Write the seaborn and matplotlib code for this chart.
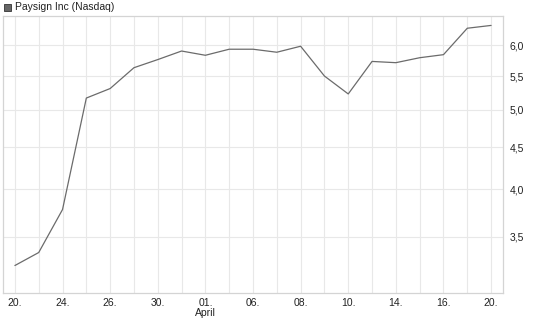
import matplotlib
matplotlib.use("Agg")
import matplotlib.pyplot as plt
import seaborn as sns
import pandas as pd
import numpy as np
from matplotlib.ticker import FixedLocator, NullLocator, FixedFormatter
from matplotlib.patches import Rectangle

title = "Paysign Inc (Nasdaq)"
prices = [3.23, 3.35, 3.78, 5.17, 5.31, 5.63, 5.76, 5.90, 5.83, 5.93, 5.93,
          5.88, 5.98, 5.50, 5.23, 5.73, 5.71, 5.79, 5.84, 6.29, 6.34]
x_tick_labels = ["20.", "24.", "26.", "30.", "01.", "06.", "08.", "10.", "14.", "16.", "20."]
y_ticks = [3.5, 4.0, 4.5, 5.0, 5.5, 6.0]
y_tick_labels = ["3,5", "4,0", "4,5", "5,0", "5,5", "6,0"]
month_label = "April"

df = pd.DataFrame({"i": np.arange(len(prices)), "price": prices})

sns.set_style("white")
plt.rcParams["font.family"] = ["Liberation Sans", "DejaVu Sans"]

fig = plt.figure(figsize=(5.45, 3.27), dpi=100)
ax = fig.add_axes([3/545, 1 - 293/327, 500/545, 277/327])

sns.lineplot(data=df, x="i", y="price", ax=ax, color="#6b6b6b", linewidth=0.9)

ax.set_yscale("log")
ax.set_ylim(2.99, 6.51)
ax.set_xlim(-0.5, len(prices) - 0.5)

ax.yaxis.set_major_locator(FixedLocator(y_ticks))
ax.yaxis.set_major_formatter(FixedFormatter(y_tick_labels))
ax.yaxis.set_minor_locator(NullLocator())
ax.yaxis.tick_right()
ax.tick_params(axis="y", which="major", length=0, pad=5, labelsize=7.5, labelcolor="#222222")

ax.set_xticks(np.arange(len(prices)))
labels = []
for k in range(len(prices)):
    labels.append(x_tick_labels[k // 2] if k % 2 == 0 else "")
ax.set_xticklabels(labels)
ax.tick_params(axis="x", length=3, width=0.8, color="#dddddd", pad=0.5, labelsize=7.5, labelcolor="#222222")

ax.grid(True, which="major", color="#e8e8e8", linewidth=0.8)
ax.set_axisbelow(True)
for s in ax.spines.values():
    s.set_color("#d4d4d4")
    s.set_linewidth(0.9)
ax.set_xlabel("")
ax.set_ylabel("")

ax.text(8, -0.055, month_label, transform=ax.get_xaxis_transform(), ha="center", va="top",
        fontsize=7.5, color="#222222")

fig.patches.append(Rectangle((4/545, 1 - 11/327), 7/545, 7/327, transform=fig.transFigure,
                             facecolor="#666666", edgecolor="#333333", linewidth=0.6))
fig.text(15/545, 1 - 7.5/327, title, ha="left", va="center", fontsize=7.5, color="#222222")

fig.savefig("out.png", dpi=100)
